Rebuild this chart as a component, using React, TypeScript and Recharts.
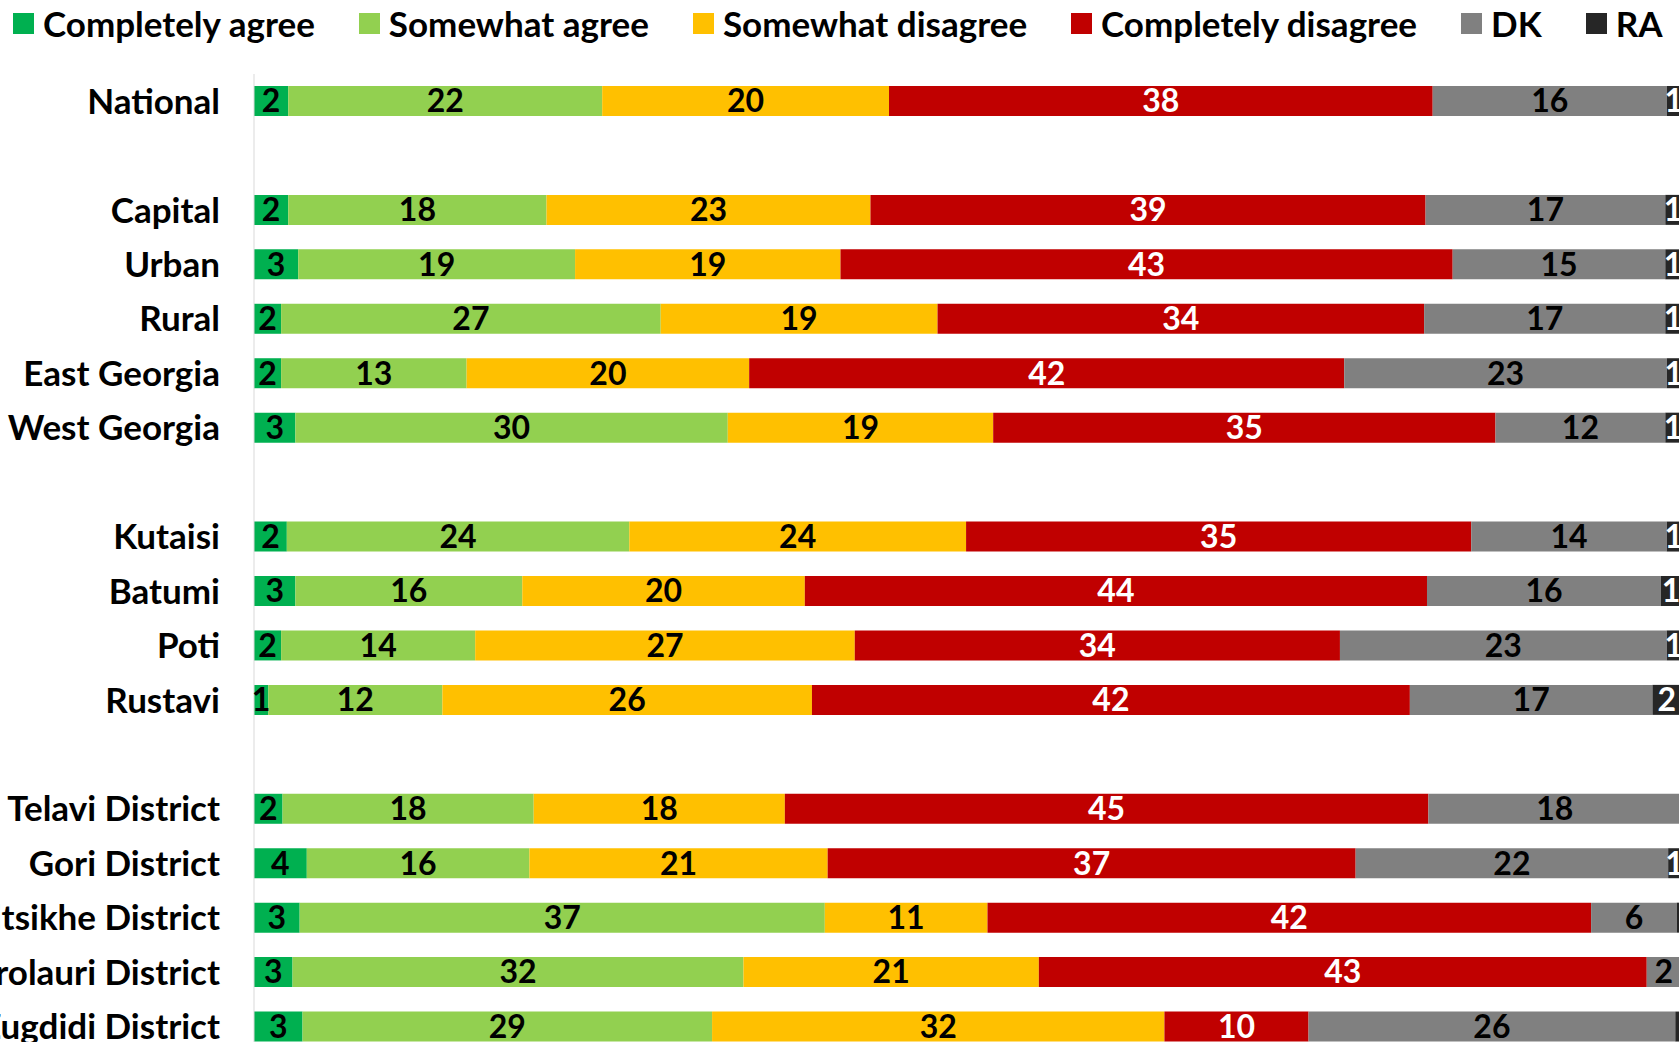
import React from 'react';
import { BarChart, Bar, XAxis, YAxis, LabelList } from 'recharts';

// rows of the chart, blank names are spacer rows between the groups
const categories = [
  'National', ' ',
  'Capital', 'Urban', 'Rural', 'East Georgia', 'West Georgia', '  ',
  'Kutaisi', 'Batumi', 'Poti', 'Rustavi', '   ',
  'Telavi District', 'Gori District', 'Akhaltsikhe District', 'Ambrolauri District', 'Zugdidi District',
];

// shares in % (labels show them rounded)
const completelyAgree = [2.4, null, 2.4, 3.1, 1.9, 1.9, 2.9, null, 2.3, 2.9, 1.9, 1.0, null, 2.0, 3.7, 3.2, 2.7, 3.4];
const somewhatAgree = [22.0, null, 18.1, 19.4, 26.6, 13.0, 30.3, null, 24.0, 15.9, 13.6, 12.2, null, 17.6, 15.6, 36.8, 31.6, 28.7];
const somewhatDisagree = [20.1, null, 22.7, 18.6, 19.4, 19.8, 18.6, null, 23.6, 19.8, 26.6, 25.9, null, 17.6, 20.9, 11.4, 20.7, 31.7];
const completelyDisagree = [38.1, null, 38.9, 42.9, 34.1, 41.7, 35.2, null, 35.4, 43.6, 34.0, 41.9, null, 45.1, 37.0, 42.3, 42.6, 10.1];
const dk = [16.4, null, 16.8, 14.9, 16.9, 22.6, 11.9, null, 13.7, 16.4, 22.9, 17.0, null, 17.7, 21.9, 6.0, 2.4, 25.7];
const ra = [1.0, null, 1.1, 1.1, 1.1, 1.0, 1.1, null, 1.0, 1.4, 1.0, 2.0, null, 0, 0.9, 0.3, 0, 0.4];

const seriesNames = ['Completely agree', 'Somewhat agree', 'Somewhat disagree', 'Completely disagree', 'DK', 'RA'];
const seriesValues = [completelyAgree, somewhatAgree, somewhatDisagree, completelyDisagree, dk, ra];
const seriesColors = ['#00B050', '#92D050', '#FFC000', '#C00000', '#808080', '#262626'];
const labelColors = ['#000000', '#000000', '#000000', '#ffffff', '#000000', '#ffffff'];

const FONT = 'Lato, "Open Sans", sans-serif';

const data = categories.map((name, i) => {
  const row: any = { name };
  seriesValues.forEach((vals, s) => {
    row[`s${s}`] = vals[i];
  });
  return row;
});

const formatLabel = (v: any) => {
  if (v == null) return '';
  const r = Math.round(Number(v));
  return r === 0 ? '' : `${r}`;
};

const ChartLegend = () => (
  <div
    style={{
      position: 'absolute',
      top: 6,
      left: 13,
      display: 'flex',
      alignItems: 'center',
      gap: 44,
      fontFamily: FONT,
      fontWeight: 700,
      fontSize: 35,
      lineHeight: '35px',
      color: '#000',
      whiteSpace: 'nowrap',
    }}
  >
    {seriesNames.map((name, i) => (
      <div key={name} style={{ display: 'flex', alignItems: 'center' }}>
        <span style={{ width: 21, height: 21, background: seriesColors[i], marginRight: 9, display: 'inline-block' }} />
        <span>{name}</span>
      </div>
    ))}
  </div>
);

export default function App() {
  return (
    <div
      style={{
        position: 'fixed',
        top: 0,
        left: 0,
        width: 1679,
        height: 1042,
        overflow: 'hidden',
        background: '#ffffff',
      }}
    >
      <ChartLegend />
      <div style={{ position: 'absolute', top: 0, left: 0 }}>
        <BarChart
          width={1710}
          height={1080}
          data={data}
          layout="vertical"
          barSize={30}
          margin={{ top: 74, right: 29, left: 0, bottom: 26 }}
        >
          <XAxis type="number" domain={[0, 100]} allowDataOverflow hide />
          <YAxis
            type="category"
            dataKey="name"
            width={254}
            interval={0}
            tickLine={false}
            tickMargin={28}
            axisLine={{ stroke: '#d9d9d9', strokeWidth: 1 }}
            tick={{ fontSize: 35, fontWeight: 700, fill: '#000', fontFamily: FONT }}
          />
          {seriesNames.map((name, i) => (
            <Bar
              key={name}
              dataKey={`s${i}`}
              name={name}
              stackId="a"
              fill={seriesColors[i]}
              isAnimationActive={false}
            >
              <LabelList
                dataKey={`s${i}`}
                position="center"
                formatter={formatLabel}
                fill={labelColors[i]}
                style={{ fontSize: 32, fontWeight: 700, fontFamily: FONT }}
              />
            </Bar>
          ))}
        </BarChart>
      </div>
    </div>
  );
}
